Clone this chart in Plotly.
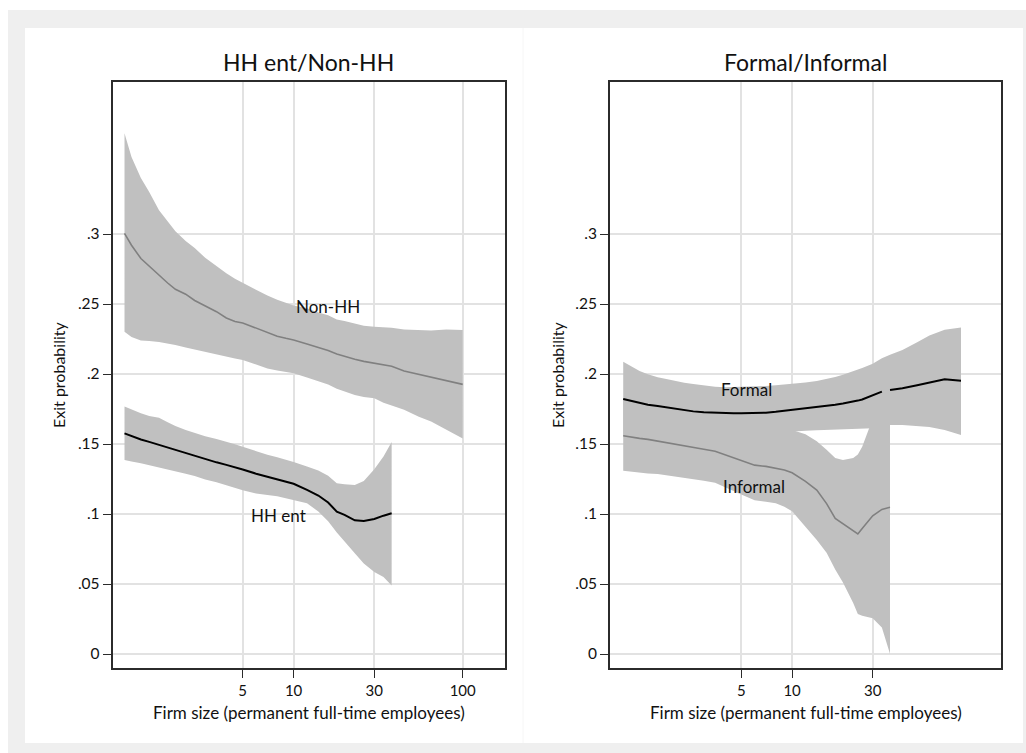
import numpy as np
import plotly.graph_objects as go

# ---------------- data ----------------
# Left panel: household enterprises vs non-household firms
size_left = [1, 1.1, 1.25, 1.4, 1.6, 1.8, 2, 2.3, 2.6, 3, 3.5, 4, 4.5, 5, 6, 7, 8, 9, 10,
             12, 14, 16, 18, 20, 23, 26, 30, 34, 38, 45, 55, 65, 80, 100]
nonhh_mean = [.3005, .2920, .2825, .2770, .2705, .2650, .2605, .2570, .2525, .2485, .2445,
              .2400, .2375, .2365, .2330, .2295, .2270, .2255, .2243, .2215, .2190, .2168,
              .2143, .2125, .2105, .2090, .2078, .2068, .2055, .2022, .1998, .1978, .1952, .1926]
nonhh_hi = [.372, .355, .340, .330, .317, .309, .302, .295, .290, .283, .277, .272, .268, .265,
            .260, .256, .253, .251, .249, .247, .244, .242, .239, .2378, .236, .2345, .2338,
            .2334, .233, .2318, .2312, .231, .2318, .2314]
nonhh_lo = [.2302, .2265, .2240, .2236, .2228, .2218, .2207, .2190, .2175, .2158, .2140, .2125,
            .2110, .2100, .2070, .2040, .2025, .2013, .2005, .1975, .1950, .1925, .1895, .1875,
            .1850, .1835, .1826, .1795, .1775, .1745, .1695, .1660, .1605, .1540]

size_hh = size_left[:29]
hh_mean = [.1576, .1557, .1532, .1515, .1494, .1475, .1458, .1433, .1412, .1391, .1369, .1351,
           .1335, .1318, .1288, .1266, .1248, .1232, .1216, .1172, .1132, .1082, .1017, .0994,
           .0955, .0950, .0964, .0988, .1005]
hh_hi = [.1767, .1745, .1720, .1700, .1687, .1655, .1628, .1600, .1578, .1555, .1535, .1518,
         .1498, .1480, .1447, .1424, .1405, .1388, .1372, .1340, .1310, .1273, .1219, .1212,
         .1208, .1235, .1320, .1410, .1515]
hh_lo = [.1386, .1375, .1362, .1353, .1337, .1322, .1305, .1288, .1272, .1246, .1226, .1208,
         .1188, .1170, .1146, .1136, .1127, .1114, .1100, .1076, .1018, .0949, .0868, .0805,
         .0720, .0646, .0585, .0550, .0490]

# Right panel: formal vs informal firms
size_right = [1, 1.1, 1.25, 1.4, 1.6, 1.8, 2, 2.3, 2.6, 3, 3.5, 4, 4.5, 5, 6, 7, 8, 9, 10,
              12, 14, 16, 18, 20, 23, 24.5, 26, 30, 34, 38, 45, 55, 65, 80, 100]
formal_mean = [.1821, .1808, .1792, .1780, .1772, .1762, .1750, .1741, .1733, .1727, .1722,
               .1719, .1719, .1719, .1721, .1724, .1730, .1737, .1745, .1758, .1767, .1774,
               .1781, .1790, .1802, .1810, .1818, .1845, .1874, .1886, .1899, .1920, .1940,
               .1963, .1952]
formal_hi = [.2088, .2060, .2022, .1998, .1976, .1965, .1952, .1938, .1929, .1918, .1909,
             .1905, .1906, .1907, .1909, .1915, .1920, .1925, .1928, .1940, .1950, .1962,
             .1978, .1994, .2017, .2027, .2042, .2074, .2112, .2137, .2172, .2227, .2275,
             .2316, .2333]
formal_lo = [.1560, .1558, .1556, .1554, .1552, .1551, .1550, .1550, .1550, .1551, .1553,
             .1555, .1558, .1562, .1568, .1574, .1580, .1585, .1588, .1594, .1599, .1602,
             .1604, .1606, .1608, .1610, .1611, .1613, .1620, .1636, .1635, .1630, .1622,
             .1600, .1564]

size_inf = size_right[:30]
informal_mean = [.1559, .1550, .1540, .1533, .1520, .1509, .1497, .1484, .1473, .1462, .1448,
                 .1424, .1406, .1384, .1349, .1340, .1328, .1314, .1294, .1233, .1171, .1074,
                 .0969, .0931, .0879, .0857, .0897, .0987, .1033, .1048]
informal_hi = [.1810, .1800, .1785, .1770, .1755, .1740, .1725, .1712, .1700, .1690, .1678,
               .1668, .1655, .1645, .1630, .1620, .1612, .1608, .1600, .1570, .1520, .1459,
               .1400, .1386, .1400, .1425, .1480, .1680, .1720, .1720]
informal_lo = [.1309, .1303, .1296, .1290, .1285, .1276, .1266, .1256, .1249, .1238, .1224,
               .1193, .1165, .1140, .1099, .1087, .1077, .1052, .1019, .0907, .0815, .0723,
               .0604, .0511, .0364, .0285, .0273, .0256, .0190, .0000]

# the formal estimate is not reported between 34 and 38 employees
formal_gap = (34, 38)

panel_titles = ["HH ent/Non-HH", "Formal/Informal"]
y_ticks = [0, .05, .1, .15, .2, .25, .3]
y_ticktext = ["0", ".05", ".1", ".15", ".2", ".25", ".3"]
x_ticks_left = [5, 10, 30, 100]
x_ticks_right = [5, 10, 30]
x_title = "Firm size (permanent full-time employees)"
y_title = "Exit probability"

# ---------------- styling ----------------
W, H = 1026, 753
FONT = "Lato, 'Open Sans', sans-serif"
BAND = "#c0c0c0"
DARK = "#000000"
MID = "#808080"
GRID = "#e2e2e2"
AXIS = "#2b2b2b"


def band(x, lo, hi, xa, ya):
    return go.Scatter(x=list(x) + list(x)[::-1], y=list(hi) + list(lo)[::-1],
                      fill="toself", fillcolor=BAND, line=dict(width=0),
                      mode="lines", hoverinfo="skip", showlegend=False,
                      xaxis=xa, yaxis=ya)


def line(x, y, color, width, xa, ya):
    return go.Scatter(x=x, y=y, mode="lines", line=dict(color=color, width=width),
                      showlegend=False, xaxis=xa, yaxis=ya, connectgaps=False)


fig = go.Figure()

# left panel
fig.add_trace(band(size_left, nonhh_lo, nonhh_hi, "x", "y"))
fig.add_trace(band(size_hh, hh_lo, hh_hi, "x", "y"))
fig.add_trace(line(size_left, nonhh_mean, MID, 1.6, "x", "y"))
fig.add_trace(line(size_hh, hh_mean, DARK, 2, "x", "y"))

# right panel
fig.add_trace(band(size_right, formal_lo, formal_hi, "x2", "y2"))
fig.add_trace(band(size_inf, informal_lo, informal_hi, "x2", "y2"))
fm_x, fm_y = [], []
for s, v in zip(size_right, formal_mean):
    fm_x.append(s)
    fm_y.append(v)
    if s == formal_gap[0]:
        fm_x.append(np.sqrt(formal_gap[0] * formal_gap[1]))
        fm_y.append(None)
fig.add_trace(line(fm_x, fm_y, DARK, 2, "x2", "y2"))
fig.add_trace(line(size_inf, informal_mean, MID, 1.6, "x2", "y2"))

# axes geometry (pixels -> paper fractions)
y_dom = [1 - 668 / H, 1 - 82 / H]
xdom_left = [112.7 / W, 505 / W]
xdom_right = [610 / W, 1001.3 / W]

common_x = dict(type="log", showgrid=True, gridcolor=GRID, gridwidth=1.5,
                ticks="outside", ticklen=8, tickwidth=1.3, tickcolor=AXIS,
                showline=True, linecolor=AXIS, linewidth=2, mirror=True,
                tickfont=dict(family=FONT, size=15, color="#111111"),
                zeroline=False)
common_y = dict(range=[-0.01, 0.40857], tickvals=y_ticks, ticktext=y_ticktext,
                showgrid=True, gridcolor=GRID, gridwidth=1.5,
                ticks="outside", ticklen=8, tickwidth=1.3, tickcolor=AXIS,
                showline=True, linecolor=AXIS, linewidth=2, mirror=True,
                tickfont=dict(family=FONT, size=15.5, color="#111111"),
                zeroline=False, domain=y_dom)

fig.update_layout(
    width=W, height=H,
    margin=dict(l=0, r=0, t=0, b=0),
    paper_bgcolor="white", plot_bgcolor="white",
    xaxis=dict(common_x, domain=xdom_left, range=[-0.0698, 2.250],
               tickvals=x_ticks_left, ticktext=[str(v) for v in x_ticks_left], anchor="y"),
    yaxis=dict(common_y, anchor="x"),
    xaxis2=dict(common_x, domain=xdom_right, range=[-0.0782, 2.2386],
                tickvals=x_ticks_right, ticktext=[str(v) for v in x_ticks_right], anchor="y2"),
    yaxis2=dict(common_y, anchor="x2"),
    showlegend=False,
)

# outer frame: grey border with a white inner panel, faint divider between graphs
fig.add_shape(type="rect", xref="paper", yref="paper", layer="below",
              x0=8 / W, x1=1, y0=0, y1=1 - 10 / H,
              fillcolor="#efefef", line=dict(width=0))
fig.add_shape(type="rect", xref="paper", yref="paper", layer="below",
              x0=25 / W, x1=1023 / W, y0=1 - 743 / H, y1=1 - 28 / H,
              fillcolor="white", line=dict(width=0))
fig.add_shape(type="line", xref="paper", yref="paper", layer="below",
              x0=523 / W, x1=523 / W, y0=1 - 743 / H, y1=1 - 28 / H,
              line=dict(color="#f6f6f6", width=1))

# panel titles and axis titles
centers = [(112.7 + 505) / 2, (610 + 1001.3) / 2]
for cx, t in zip(centers, panel_titles):
    fig.add_annotation(x=cx / W, y=1 - 62 / H, xref="paper", yref="paper",
                       text=t, showarrow=False, xanchor="center", yanchor="middle",
                       font=dict(family=FONT, size=23, color="#111111"))
    fig.add_annotation(x=cx / W, y=1 - 712 / H, xref="paper", yref="paper",
                       text=x_title, showarrow=False, xanchor="center", yanchor="middle",
                       font=dict(family=FONT, size=17, color="#111111"))

for yx in [58, 557]:
    fig.add_annotation(x=yx / W, y=1 - 375 / H, xref="paper", yref="paper",
                       text=y_title, showarrow=False, textangle=-90,
                       xanchor="center", yanchor="middle",
                       font=dict(family=FONT, size=16, color="#111111"))

# curve labels
curve_labels = [("Non-HH", 15.9, .248, "x", "y"), ("HH ent", 8.14, .0988, "x", "y"),
                ("Formal", 5.37, .189, "x2", "y2"), ("Informal", 5.95, .1195, "x2", "y2")]
for txt, xs, yv, xa, ya in curve_labels:
    fig.add_annotation(x=np.log10(xs), y=yv, xref=xa, yref=ya, text=txt,
                       showarrow=False, xanchor="center", yanchor="middle",
                       font=dict(family=FONT, size=17, color="#111111"))

fig.write_html("out.html")
